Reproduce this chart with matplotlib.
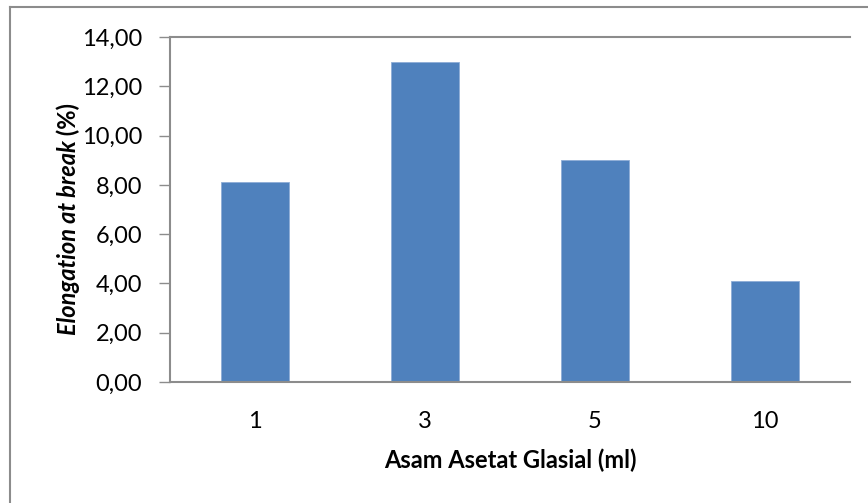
#!/usr/bin/env python3
"""Bar chart: elongation at break vs glacial acetic acid volume."""

import matplotlib
matplotlib.use("Agg")
import matplotlib.pyplot as plt
from matplotlib.lines import Line2D

# data
categories = ["1", "3", "5", "10"]
elongation = [8.1, 13.0, 9.0, 4.1]
y_ticks = [0, 2, 4, 6, 8, 10, 12, 14]

plt.rcParams['font.family'] = ['Lato', 'DejaVu Sans']

fig = plt.figure(figsize=(8.68, 5.03), dpi=100)
ax = fig.add_axes([170 / 868, 1 - 382 / 503, 680 / 868, 345 / 503])

bar_color = "#4F81BD"
axis_color = "#8C8C8C"
fs = 17

x = range(len(categories))
ax.bar(x, elongation, width=0.4, color=bar_color, edgecolor="#8EADD6", linewidth=0.6)

ax.set_xlim(-0.5, len(categories) - 0.5)
ax.set_ylim(0, 14)
ax.set_xticks(list(x))
ax.set_xticklabels(categories, fontsize=fs)
ax.set_yticks(y_ticks)
ax.set_yticklabels([f"{v:.2f}".replace(".", ",") for v in y_ticks], fontsize=fs)

ax.tick_params(axis='x', length=0, pad=21)
ax.tick_params(axis='y', length=8, width=1, color=axis_color, direction='out', pad=12)

for side in ['left', 'bottom', 'top']:
    ax.spines[side].set_color(axis_color)
    ax.spines[side].set_linewidth(1.5)
ax.spines['right'].set_visible(False)

ax.set_xlabel("Asam Asetat Glasial (ml)", fontsize=fs, fontweight='bold', labelpad=12)

# y label: italic part + upright "(%)"
t1 = fig.text(68 / 868, 1 - 238 / 503, "Elongation at break", rotation=90,
              fontsize=fs, fontweight='bold', fontstyle='italic',
              ha='center', va='center')
fig.canvas.draw()
ax.annotate(" (%)", xy=(0.5, 1.0), xycoords=t1, rotation=90,
            fontsize=fs, fontweight='bold', ha='center', va='bottom',
            annotation_clip=False)

# outer chart border (left and top visible in the reference)
fig.add_artist(Line2D([10 / 868, 10 / 868], [0, 1 - 7 / 503], transform=fig.transFigure,
                      color=axis_color, linewidth=1.5))
fig.add_artist(Line2D([10 / 868, 1], [1 - 7 / 503, 1 - 7 / 503], transform=fig.transFigure,
                      color=axis_color, linewidth=1.5))

fig.savefig("out.png", dpi=100)
